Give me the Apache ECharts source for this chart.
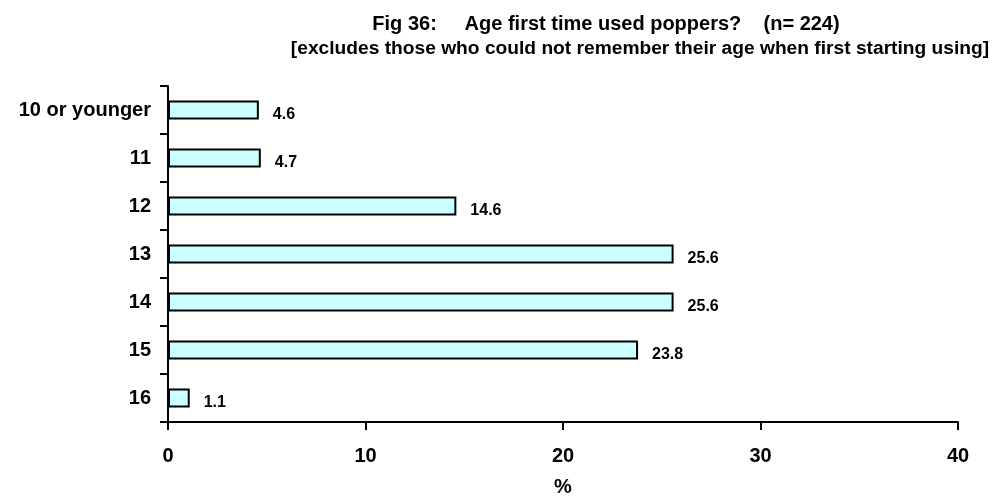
<!DOCTYPE html>
<html>
<head>
<meta charset="utf-8">
<script src="https://cdn.jsdelivr.net/npm/echarts@6/dist/echarts.min.js"></script>
<style>
  html, body { margin: 0; padding: 0; background: #fff; }
  #chart { width: 992px; height: 497px; }
</style>
</head>
<body>
<div id="chart"></div>
<script>
// data
const ages = ['10 or younger', '11', '12', '13', '14', '15', '16'];
const percent = [4.6, 4.7, 14.6, 25.6, 25.6, 23.8, 1.1];
const xTicks = [0, 10, 20, 30, 40];

const myChart = echarts.init(document.getElementById('chart'));
const font = 'Arial, "Liberation Sans", sans-serif';

const option = {
  backgroundColor: '#ffffff',
  animation: false,
  title: [{
    text: 'Fig 36:     Age first time used poppers?    (n= 224)',
    left: 601, top: 9, textAlign: 'center',
    textStyle: { fontFamily: font, fontSize: 20, fontWeight: 'bold', color: '#000' }
  }, {
    text: '[excludes those who could not remember their age when first starting using]',
    left: 635, top: 34, textAlign: 'center',
    textStyle: { fontFamily: font, fontSize: 19.2, fontWeight: 'bold', color: '#000' }
  }],
  grid: { left: 168, right: 34, top: 86, bottom: 75, containLabel: false, outerBoundsMode: 'none' },
  xAxis: {
    type: 'value',
    min: xTicks[0], max: xTicks[xTicks.length - 1], interval: 10,
    name: '%', nameLocation: 'middle', nameGap: 55,
    nameTextStyle: { fontFamily: font, fontSize: 20, fontWeight: 'bold', color: '#000' },
    axisLine: { show: true, lineStyle: { color: '#000', width: 2 } },
    axisTick: { show: true, length: 8, lineStyle: { color: '#000', width: 2 } },
    axisLabel: { margin: 24, fontFamily: font, fontSize: 20, fontWeight: 'bold', color: '#000' },
    splitLine: { show: false }
  },
  yAxis: {
    type: 'category',
    inverse: true,
    data: ages,
    axisLine: { show: true, lineStyle: { color: '#000', width: 2 } },
    axisTick: { show: true, length: 8, lineStyle: { color: '#000', width: 2 } },
    axisLabel: {
      margin: 17, padding: [6, 0, 0, 0],
      fontFamily: font, fontSize: 20, fontWeight: 'bold', color: '#000'
    }
  },
  series: [{
    type: 'bar',
    data: percent,
    barWidth: 19,
    itemStyle: { color: '#ccffff', borderColor: '#000', borderWidth: 2 },
    label: {
      show: true, position: 'right', distance: 14, offset: [0, 5],
      fontFamily: font, fontSize: 16, fontWeight: 'bold', color: '#000',
      formatter: p => p.value.toFixed(1)
    }
  }]
};
myChart.setOption(option);
</script>
</body>
</html>
